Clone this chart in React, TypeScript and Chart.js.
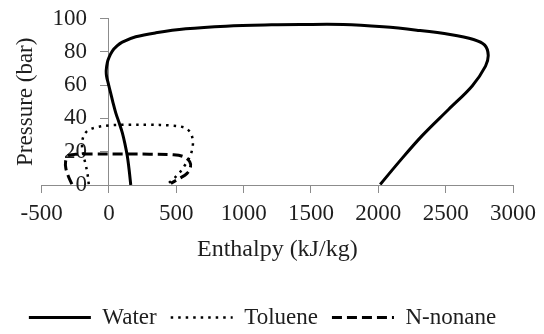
import React, { useEffect, useRef } from 'react';
import { Chart, registerables, LinearScale } from 'chart.js';

Chart.register(...registerables);

// ---- data ----
const waterH = [162, 150, 136, 118, 99, 75, 50, 30, 12, -5, -18, -20, -12, 0, 25, 60, 99, 199, 348, 571, 869, 1207, 1420, 1740, 2036, 2285, 2533, 2707, 2790, 2816, 2796, 2697, 2523, 2324, 2151, 2014];
const waterP = [0, 9, 17.5, 25, 31.5, 37.5, 43.5, 49.5, 55.5, 61, 65.5, 69, 73.5, 76.5, 80.4, 83.5, 85.8, 89, 91.4, 93.8, 95.4, 96.2, 96.4, 96.4, 95, 93, 90.4, 87.4, 84, 78, 71.4, 59.5, 45.5, 29.5, 13.6, 0.3];

const tolueneH = [-150, -158, -172, -190, -200, -190, -160, -100, 0, 150, 300, 450, 560, 605, 622, 620, 600, 565, 520, 470, 435];
const tolueneP = [0.5, 6, 12, 18, 24, 29, 32.5, 34.5, 35.8, 36.2, 36.2, 35.8, 34.5, 31.5, 27, 22, 17, 12, 7, 3, 0.5];

const nonaneH = [-275, -300, -320, -322, -305, -250, -100, 100, 300, 480, 555, 600, 605, 580, 525, 460];
const nonaneP = [0.5, 5, 10, 14, 17.5, 18.4, 18.6, 18.6, 18.5, 18.2, 17, 14, 10.5, 7, 4, 1];

const seriesNames = ['Water', 'Toluene', 'N-nonane'];
const xTitle = 'Enthalpy (kJ/kg)';
const yTitle = 'Pressure (bar)';
const xMin = -500, xMax = 3000, xStep = 500;
const yMin = 0, yMax = 100, yStep = 20;

// ---- style ----
const FONT = "'Liberation Serif', 'Times New Roman', serif";
const AXIS_GRAY = '#8c8c8c';
const TEXT = '#1e1e1e';
const LABEL_SHIFT = 22;

class CrossLinearScale extends LinearScale {
  static id = 'crossLinear';
  static defaults = {};
  _computeLabelItems(chartArea: any) {
    const items = super._computeLabelItems(chartArea);
    for (const it of items) {
      it.options.translation[0] -= LABEL_SHIFT;
    }
    return items;
  }
}
Chart.register(CrossLinearScale as any);

const toPts = (xs: number[], ys: number[]) => xs.map((x, i) => ({ x, y: ys[i] }));

export default function App() {
  const ref = useRef<HTMLCanvasElement | null>(null);
  useEffect(() => {
    if (!ref.current) return;
    const chart = new Chart(ref.current, {
      type: 'scatter',
      data: {
        datasets: [
          {
            label: seriesNames[0],
            data: toPts(waterH, waterP),
            showLine: true,
            borderColor: '#000',
            backgroundColor: '#000',
            borderWidth: 3,
            pointRadius: 0,
            tension: 0.35,
            borderJoinStyle: 'round',
          },
          {
            label: seriesNames[1],
            data: toPts(tolueneH, tolueneP),
            showLine: true,
            borderColor: '#000',
            backgroundColor: '#000',
            borderWidth: 2.5,
            borderDash: [2.5, 5],
            pointRadius: 0,
            tension: 0.35,
          },
          {
            label: seriesNames[2],
            data: toPts(nonaneH, nonaneP),
            showLine: true,
            borderColor: '#000',
            backgroundColor: '#000',
            borderWidth: 3,
            borderDash: [10, 5],
            pointRadius: 0,
            tension: 0.35,
          },
        ] as any,
      },
      options: {
        animation: false,
        responsive: true,
        maintainAspectRatio: false,
        layout: { padding: { left: 12, right: 31, top: 18.5, bottom: -5 } },
        plugins: {
          tooltip: { enabled: false },
          legend: {
            position: 'bottom',
            labels: {
              usePointStyle: true,
              pointStyleWidth: 62,
              padding: 14,
              color: TEXT,
              font: { family: FONT, size: 23 },
              generateLabels: (c: any) => {
                const items = (Chart.defaults.plugins.legend.labels as any).generateLabels(c);
                return items.map((it: any) => {
                  const ds: any = c.data.datasets[it.datasetIndex];
                  return {
                    ...it,
                    pointStyle: 'line',
                    lineDash: ds.borderDash || [],
                    lineWidth: ds.borderWidth,
                    strokeStyle: ds.borderColor,
                    fillStyle: ds.borderColor,
                    lineCap: 'butt',
                  };
                });
              },
            },
          },
        },
        scales: {
          x: {
            type: 'linear',
            position: 'bottom',
            min: xMin,
            max: xMax,
            ticks: {
              stepSize: xStep,
              padding: 7,
              autoSkip: false,
              maxRotation: 0,
              color: TEXT,
              font: { family: FONT, size: 23 },
              callback: (v: any) => String(v),
            },
            grid: { drawOnChartArea: false, drawTicks: true, tickLength: 8, color: AXIS_GRAY },
            border: { color: AXIS_GRAY, width: 1 },
            title: {
              display: true,
              text: xTitle,
              color: TEXT,
              font: { family: FONT, size: 24 },
              padding: { top: 1, bottom: 27.6 },
            },
          },
          y: {
            type: 'crossLinear' as any,
            position: { x: 0 } as any,
            min: yMin,
            max: yMax,
            ticks: {
              stepSize: yStep,
              autoSkip: false,
              color: TEXT,
              font: { family: FONT, size: 23 },
              callback: (v: any) => String(v),
            },
            grid: { drawOnChartArea: false, drawTicks: true, tickLength: 8, color: AXIS_GRAY },
            border: { color: AXIS_GRAY, width: 1 },
          },
          yTitleAxis: {
            type: 'linear',
            position: 'left',
            min: yMin,
            max: yMax,
            ticks: { display: false },
            grid: { display: false, drawTicks: false, tickLength: 0 },
            border: { display: false },
            title: {
              display: true,
              text: yTitle,
              color: TEXT,
              font: { family: FONT, size: 23 },
              padding: { top: 0, bottom: 2 },
            },
          },
        } as any,
      },
    });
    return () => chart.destroy();
  }, []);

  return (
    <div style={{ position: 'fixed', left: 0, top: 0, width: 544, height: 334, background: '#fff' }}>
      <canvas ref={ref} />
    </div>
  );
}
